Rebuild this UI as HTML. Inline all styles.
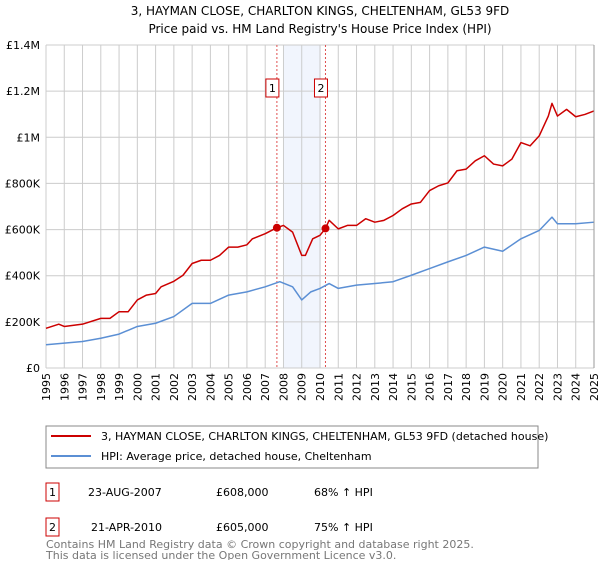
<!DOCTYPE html>
<html><head><meta charset="utf-8"><style>
body{margin:0;background:#fff;font-family:"DejaVu Sans","Liberation Sans",sans-serif;}
svg text{font-family:"DejaVu Sans","Liberation Sans",sans-serif;}
</style></head><body>
<svg id="c" width="600" height="560" xmlns="http://www.w3.org/2000/svg">
<text x="320" y="15" text-anchor="middle" font-size="12">3, HAYMAN CLOSE, CHARLTON KINGS, CHELTENHAM, GL53 9FD</text>
<text x="320" y="33" text-anchor="middle" font-size="12">Price paid vs. HM Land Registry's House Price Index (HPI)</text>
<g id="plot"></g>
<rect x="46" y="426" width="492" height="42" fill="#fff" stroke="#888"/>
<line x1="51" y1="436" x2="91" y2="436" stroke="#cc0000" stroke-width="2"/>
<text x="101" y="440" font-size="11">3, HAYMAN CLOSE, CHARLTON KINGS, CHELTENHAM, GL53 9FD (detached house)</text>
<line x1="51" y1="456" x2="91" y2="456" stroke="#5b8fd4" stroke-width="2"/>
<text x="101" y="460" font-size="11">HPI: Average price, detached house, Cheltenham</text>
<g>
<rect x="46" y="483" width="13" height="18" fill="#fff" stroke="#cc0000"/>
<text x="52.5" y="496" font-size="11" text-anchor="middle">1</text>
<text x="88" y="496" font-size="11">23-AUG-2007</text>
<text x="216" y="496" font-size="11">£608,000</text>
<text x="314" y="496" font-size="11">68% ↑ HPI</text></g>
<g>
<rect x="46" y="518" width="13" height="18" fill="#fff" stroke="#cc0000"/>
<text x="52.5" y="531" font-size="11" text-anchor="middle">2</text>
<text x="91" y="531" font-size="11">21-APR-2010</text>
<text x="216" y="531" font-size="11">£605,000</text>
<text x="314" y="531" font-size="11">75% ↑ HPI</text></g>
<text x="46" y="548" font-size="11" fill="#777">Contains HM Land Registry data © Crown copyright and database right 2025.</text>
<text x="46" y="559" font-size="11" fill="#777">This data is licensed under the Open Government Licence v3.0.</text>
</svg>
<script>
const priceYears=[1995,1995.7,1996,1997,1998,1998.5,1999,1999.5,2000,2000.5,2001,2001.3,2002,2002.5,2003,2003.5,2004,2004.5,2005,2005.5,2006,2006.3,2007,2007.64,2008,2008.5,2009,2009.2,2009.6,2010,2010.3,2010.5,2011,2011.5,2012,2012.5,2013,2013.5,2014,2014.5,2015,2015.5,2016,2016.5,2017,2017.5,2018,2018.5,2019,2019.5,2020,2020.5,2021,2021.5,2022,2022.5,2022.7,2023,2023.5,2024,2024.5,2025];
const priceValues=[172,190,180,190,215,215,244,244,295,316,323,352,376,402,453,467,467,488,524,524,534,560,582,608,618,589,488,488,560,575,605,640,603,618,618,647,632,640,661,690,711,718,769,790,802,855,862,898,920,884,876,905,977,963,1006,1092,1147,1092,1121,1089,1099,1114];
const hpiYears=[1995,1996,1997,1998,1999,2000,2001,2002,2003,2004,2005,2006,2007,2007.8,2008.5,2009,2009.5,2010,2010.5,2011,2012,2013,2014,2015,2016,2017,2018,2019,2020,2021,2022,2022.7,2023,2024,2025];
const hpiValues=[101,108,115,129,147,180,194,223,280,280,316,330,352,374,352,295,330,345,366,345,359,366,374,402,431,460,488,524,506,560,596,654,625,625,632];
const sales=[{n:"1",year:2007.64,value:608},{n:"2",year:2010.3,value:605}];
const yTicks=[0,200,400,600,800,1000,1200,1400];
const yTickLabels=["£0","£200K","£400K","£600K","£800K","£1M","£1.2M","£1.4M"];
const xTicks=[1995,1996,1997,1998,1999,2000,2001,2002,2003,2004,2005,2006,2007,2008,2009,2010,2011,2012,2013,2014,2015,2016,2017,2018,2019,2020,2021,2022,2023,2024,2025];

const X0=46,X1=594,Y0=368,Y1=45;
const xs=y=>X0+(y-1995)/30*(X1-X0);
const ys=v=>Y0-v/1400*(Y0-Y1);
const NS="http://www.w3.org/2000/svg";
const g=document.getElementById('plot');
function mk(t,a){const e=document.createElementNS(NS,t);for(const k in a)e.setAttribute(k,a[k]);g.appendChild(e);return e;}
let e=mk('rect',{x:xs(2008),y:Y1,width:xs(2010.05)-xs(2008),height:Y0-Y1,fill:'#eef3fc',opacity:0.8});


xTicks.forEach(t=>{
 let l=mk('line',{x1:xs(t),x2:xs(t),y1:Y1,y2:Y0,stroke:'#ccc','stroke-width':1});
 
 
 let tx=mk('text',{x:0,y:0,'font-size':11,'text-anchor':'end',transform:`translate(${xs(t)+4},373) rotate(-90)`});
 tx.textContent=t;
 
 
});
yTicks.forEach((t,i)=>{
 let l=mk('line',{x1:X0,x2:X1,y1:ys(t),y2:ys(t),stroke:'#ccc','stroke-width':1});
 
 
 let tx=mk('text',{x:40,y:ys(t)+4,'font-size':11,'text-anchor':'end'});
 tx.textContent=yTickLabels[i];
 
 
});
sales.forEach(s=>{
 let l=mk('line',{x1:xs(s.year),x2:xs(s.year),y1:Y1,y2:Y0,stroke:'#e05050','stroke-dasharray':'2,2','stroke-width':1});
 
 
});
function line(xa,va,col,name){
 const p=mk('polyline',{points:xa.map((x,i)=>xs(x)+','+ys(va[i])).join(' '),fill:'none',stroke:col,'stroke-width':1.5,'stroke-linejoin':'round'});
 
 
}
line(hpiYears,hpiValues,'#5b8fd4','hpi-line');
line(priceYears,priceValues,'#cc0000','price-line');
sales.forEach(s=>{
 let c=mk('circle',{cx:xs(s.year),cy:ys(s.value),r:4,fill:'#cc0000'});
 
 
 let r=mk('rect',{x:xs(s.year)-11,y:79,width:13,height:18,fill:'#fff',stroke:'#cc0000'});
 
 
 let t=mk('text',{x:xs(s.year)-4.5,y:92,'font-size':11,'text-anchor':'middle'});
 t.textContent=s.n;
 
 
});
let ax=mk('line',{x1:X1,x2:X1,y1:Y1,y2:Y0,stroke:'#999'});


</script>
</body></html>
